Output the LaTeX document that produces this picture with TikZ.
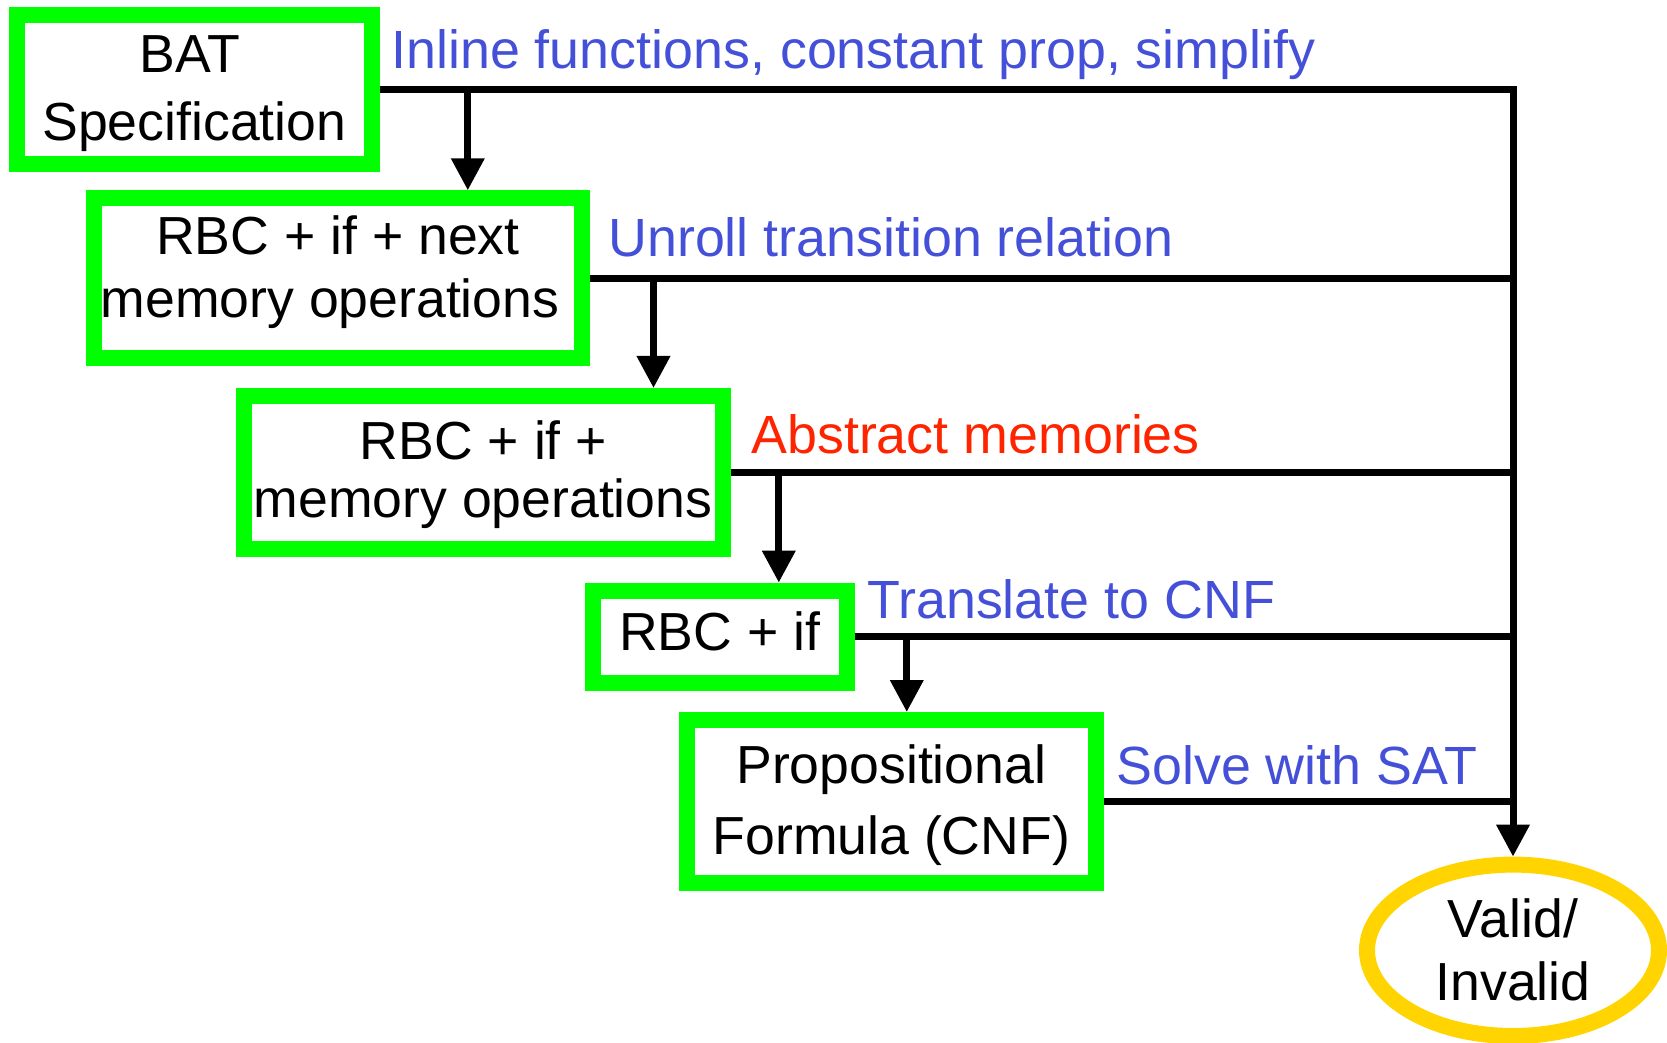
\documentclass[tikz,border=0pt]{standalone}
\usepackage{fontspec}
\setmainfont{Liberation Sans}
\usetikzlibrary{arrows.meta,shapes.geometric}
\definecolor{boxgreen}{RGB}{0,255,0}
\definecolor{lblblue}{RGB}{68,80,216}
\definecolor{lblred}{RGB}{255,36,0}
\definecolor{gold}{RGB}{255,212,0}
\tikzset{
  stagebox/.style={draw=boxgreen, line width=8pt, rectangle, inner sep=0pt},
  endell/.style={draw=gold, line width=8pt, ellipse, inner sep=0pt},
  btxt/.style={font=\fontsize{26.8}{32}\selectfont, anchor=base, inner sep=0pt},
  lbl/.style={font=\fontsize{26.9}{32}\selectfont, anchor=base west, inner sep=0pt, text=lblblue},
  conn/.style={line width=3.5pt},
  arr/.style={conn, -{Triangle[length=16pt,width=16pt]}}
}
\begin{document}
\begin{tikzpicture}[x=0.5pt,y=-0.5pt]
\useasboundingbox (0,0) rectangle (1667,1043);
% boxes
\node[stagebox, minimum width=177.1pt, minimum height=74.6pt] (b1) at (194.4,89.9) {};
\node[stagebox, minimum width=244pt, minimum height=80pt] (b2) at (338,278.3) {};
\node[stagebox, minimum width=239.5pt, minimum height=76.5pt] (b3) at (483.5,472.5) {};
\node[stagebox, minimum width=127pt, minimum height=46.2pt] (b4) at (719.7,636.8) {};
\node[stagebox, minimum width=204.2pt, minimum height=81.7pt] (b5) at (891.3,801.7) {};
\node[endell, minimum width=146pt, minimum height=85.7pt] (ell) at (1513,950.3) {};
% box texts
\node[btxt] (t1a) at (190,73) {BAT};
\node[btxt] (t1b) at (194.4,141) {Specification};
\node[btxt] (t2a) at (338,255) {RBC + if + next};
\node[btxt] (t2b) at (330,318) {memory operations};
\node[btxt] (t3a) at (483.5,459) {RBC + if +};
\node[btxt] (t3b) at (483,517) {memory operations};
\node[btxt] (t4a) at (719.7,650) {RBC + if};
\node[btxt] (t5a) at (891.3,783) {Propositional};
\node[btxt] (t5b) at (891.3,854) {Formula (CNF)};
\node[btxt] (tea) at (1513,937) {Valid/};
\node[btxt] (teb) at (1513,1000) {Invalid};
% labels
\node[lbl] (l1) at (391,69) {Inline functions, constant prop, simplify};
\node[lbl] (l2) at (608,257) {Unroll transition relation};
\node[lbl, text=lblred] (l3) at (751,453) {Abstract memories};
\node[lbl] (l4) at (867,618) {Translate to CNF};
\node[lbl] (l5) at (1116,784) {Solve with SAT};
% connectors to the result
\draw[arr] (b1.east) -| (ell.north);
\draw[conn] (b2.east) -- (b2.east -| ell.north);
\draw[conn] (b3.east) -- (b3.east -| ell.north);
\draw[conn] (b4.east) -- (b4.east -| ell.north);
\draw[conn] (b5.east) -- (b5.east -| ell.north);
% down arrows
\coordinate (j1) at (467.8,89.9);
\coordinate (j2) at (653.5,278.3);
\coordinate (j3) at (778.8,472.5);
\coordinate (j4) at (906.8,636.8);
\draw[arr] (j1) -- (j1 |- b2.north);
\draw[arr] (j2) -- (j2 |- b3.north);
\draw[arr] (j3) -- (j3 |- b4.north);
\draw[arr] (j4) -- (j4 |- b5.north);
\end{tikzpicture}
\end{document}
